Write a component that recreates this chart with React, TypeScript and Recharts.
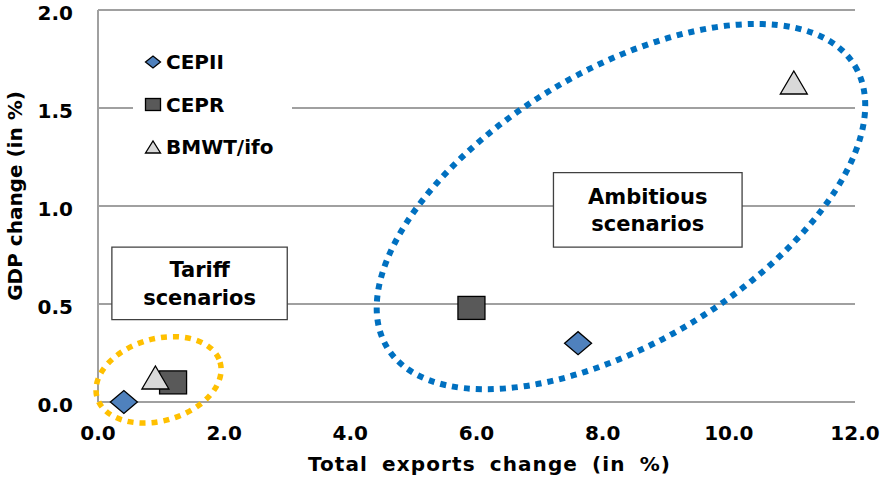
import type { ReactElement } from "react";
import {
  CartesianGrid,
  Label,
  Legend,
  ReferenceArea,
  ReferenceDot,
  Scatter,
  ScatterChart,
  XAxis,
  YAxis,
} from "recharts";

const FONT = '"DejaVu Sans", Arial, sans-serif';
const GRID = "#a0a0a0";

const xTicks = [0, 2, 4, 6, 8, 10, 12];
const yTicks = [0, 0.5, 1, 1.5, 2];

// total exports change / GDP change, in %
const cepiiExports = [0.41, 7.61];
const cepiiGdp = [0.0, 0.3];
const ceprExports = [1.19, 5.92];
const ceprGdp = [0.1, 0.48];
const bmwtExports = [0.91, 11.03];
const bmwtGdp = [0.125, 1.63];

// scenario groups: label lines, box corners [x1, x2, y1, y2], ellipse centre [x, y]
const groupLabels = [
  ["Tariff", "scenarios"],
  ["Ambitious", "scenarios"],
];
const groupBoxes = [
  [0.22, 3.0, 0.42, 0.79],
  [7.22, 10.21, 0.79, 1.17],
];
const groupCentres = [
  [0.96, 0.113],
  [8.29, 0.997],
];

const ELLIPSES = [
  { color: "#ffc000", rx: 64, ry: 41, angle: -16, width: 5.5 },
  { color: "#0070c0", rx: 273, ry: 136, angle: -31, width: 6 },
];

type Kind = "diamond" | "square" | "triangle";

const toPoints = (xs: number[], ys: number[]) => xs.map((x, i) => ({ x, y: ys[i] }));

const SERIES: { name: string; kind: Kind; fill: string; data: { x: number; y: number }[] }[] = [
  { name: "CEPII", kind: "diamond", fill: "#4f81bd", data: toPoints(cepiiExports, cepiiGdp) },
  { name: "CEPR", kind: "square", fill: "#595959", data: toPoints(ceprExports, ceprGdp) },
  { name: "BMWT/ifo", kind: "triangle", fill: "#d9d9d9", data: toPoints(bmwtExports, bmwtGdp) },
];

function marker(kind: Kind, cx: number, cy: number, w: number, h: number, fill: string): ReactElement {
  const common = { fill, stroke: "#000", strokeWidth: 1.3 };
  if (kind === "square") {
    return <rect x={cx - w / 2} y={cy - h / 2} width={w} height={h} {...common} />;
  }
  if (kind === "diamond") {
    return (
      <path
        d={`M${cx - w / 2},${cy}L${cx},${cy - h / 2}L${cx + w / 2},${cy}L${cx},${cy + h / 2}Z`}
        {...common}
      />
    );
  }
  return (
    <path d={`M${cx - w / 2},${cy + h / 2}L${cx},${cy - h / 2}L${cx + w / 2},${cy + h / 2}Z`} {...common} />
  );
}

const textStyle = { fontFamily: FONT, fontWeight: "bold" as const, fill: "#000" };

function renderLegend() {
  return (
    <svg width={159} height={134} style={{ display: "block", background: "#fff" }}>
      {SERIES.map((s, i) => (
        <g key={s.name}>
          {marker(s.kind, 20, 24 + i * 42.5, 15, 12, s.fill)}
          <text x={33} y={31 + i * 42.5} fontSize={20} {...textStyle}>
            {s.name}
          </text>
        </g>
      ))}
    </svg>
  );
}

export default function App() {
  return (
    <div style={{ position: "absolute", left: 0, top: 0, background: "#fff" }}>
      <ScatterChart width={881} height={480} margin={{ top: 10, right: 26, bottom: 0, left: 0 }}>
        <CartesianGrid vertical={false} stroke={GRID} strokeWidth={2} />
        <XAxis
          type="number"
          dataKey="x"
          domain={[0, 12]}
          ticks={xTicks}
          interval={0}
          tickFormatter={(v: number) => v.toFixed(1)}
          height={78}
          tickSize={0}
          tickMargin={24}
          tickLine={false}
          axisLine={{ stroke: GRID, strokeWidth: 2 }}
          tick={{ fontSize: 20, ...textStyle }}
        >
          <Label
            value="Total exports change (in %)"
            position="insideBottom"
            offset={9}
            dx={13}
            style={{ fontSize: 20, letterSpacing: 1.1, wordSpacing: 6, ...textStyle }}
          />
        </XAxis>
        <YAxis
          type="number"
          dataKey="y"
          domain={[0, 2]}
          ticks={yTicks}
          interval={0}
          tickFormatter={(v: number) => v.toFixed(1)}
          width={98}
          tickSize={0}
          tickMargin={25}
          tickLine={false}
          axisLine={{ stroke: GRID, strokeWidth: 2 }}
          tick={{ fontSize: 20, dy: 2.5, ...textStyle }}
        >
          <Label
            value="GDP change (in %)"
            position="insideLeft"
            angle={-90}
            offset={15}
            dy={-10}
            style={{ fontSize: 20, textAnchor: "middle", ...textStyle }}
          />
        </YAxis>
        <Legend
          layout="horizontal"
          verticalAlign="middle"
          align="center"
          content={renderLegend}
          wrapperStyle={{ left: 133, top: 38, width: 159, height: 134 }}
        />
        {groupCentres.map(([x, y], i) => {
          const e = ELLIPSES[i];
          return (
            <ReferenceDot
              key={`ell-${i}`}
              x={x}
              y={y}
              shape={(p: { cx: number; cy: number }) => (
                <ellipse
                  cx={p.cx}
                  cy={p.cy}
                  rx={e.rx}
                  ry={e.ry}
                  transform={`rotate(${e.angle} ${p.cx} ${p.cy})`}
                  fill="none"
                  stroke={e.color}
                  strokeWidth={e.width}
                  strokeDasharray="6 6"
                />
              )}
            />
          );
        })}
        {groupBoxes.map(([x1, x2, y1, y2], i) => (
          <ReferenceArea
            key={`box-${i}`}
            x1={x1}
            x2={x2}
            y1={y1}
            y2={y2}
            fill="#fff"
            fillOpacity={1}
            stroke="#404040"
            strokeWidth={1.3}
            label={(p: { viewBox: { x: number; y: number; width: number; height: number } }) => {
              const vb = p.viewBox;
              const cx = vb.x + vb.width / 2;
              const cy = vb.y + vb.height / 2;
              return (
                <g>
                  {groupLabels[i].map((line, j) => (
                    <text key={line} x={cx} y={cy - 6 + j * 27.5} textAnchor="middle" fontSize={21} {...textStyle}>
                      {line}
                    </text>
                  ))}
                </g>
              );
            }}
          />
        ))}
        {SERIES.map((s) => (
          <Scatter
            key={s.name}
            name={s.name}
            data={s.data}
            isAnimationActive={false}
            shape={(p: { cx: number; cy: number }) => marker(s.kind, p.cx, p.cy, 27, 23, s.fill)}
          />
        ))}
      </ScatterChart>
    </div>
  );
}
